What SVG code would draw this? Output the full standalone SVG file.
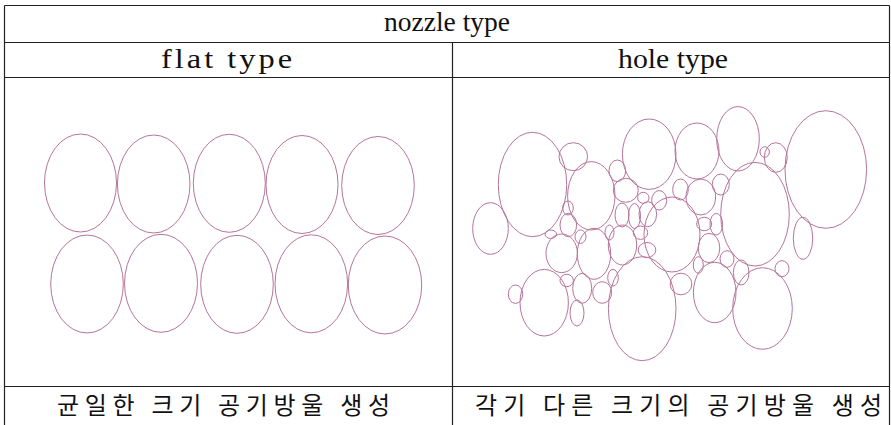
<svg xmlns="http://www.w3.org/2000/svg" width="891" height="425" viewBox="0 0 891 425">
<style>
.grid{stroke:#222;stroke-width:1.2;fill:none}
.b{fill:none;stroke:#b5759a;stroke-width:1}
.lat{font-family:"Liberation Serif","DejaVu Serif",serif;font-size:27px;fill:#111;text-anchor:middle}
.kor{font-family:"Noto Sans CJK KR","Noto Sans",sans-serif;font-size:24px;fill:#111;text-anchor:middle}
</style>
<rect width="891" height="425" fill="#fff"/>
<g id="table">
<line class="grid" x1="4.5" y1="5.5" x2="889.5" y2="5.5"/>
<line class="grid" x1="4.5" y1="5.5" x2="4.5" y2="425"/>
<line class="grid" x1="889.5" y1="5.5" x2="889.5" y2="425"/>
<line class="grid" x1="4.5" y1="42.5" x2="889.5" y2="42.5"/>
<line class="grid" x1="4.5" y1="77.5" x2="889.5" y2="77.5"/>
<line class="grid" x1="4.5" y1="386.5" x2="889.5" y2="386.5"/>
<line class="grid" x1="452.5" y1="42.5" x2="452.5" y2="425"/>
</g>
<g id="headers">
<text class="lat" x="447" y="31" textLength="126" lengthAdjust="spacingAndGlyphs">nozzle type</text>
<text class="lat" transform="translate(228,68) scale(1.2,1)" x="0" y="0" letter-spacing="2.5">flat type</text>
<text class="lat" x="673" y="68" textLength="110" lengthAdjust="spacingAndGlyphs">hole type</text>
</g>
<g id="captions">
<text class="kor" x="223.5" y="414" textLength="333">균일한 크기 공기방울 생성</text>
<text class="kor" x="678.5" y="414" textLength="407">각기 다른 크기의 공기방울 생성</text>
</g>
<g id="flat-bubbles">
<ellipse class="b" cx="80.5" cy="183" rx="36" ry="49"/>
<ellipse class="b" cx="153.7" cy="184" rx="36.3" ry="49"/>
<ellipse class="b" cx="229.3" cy="183.3" rx="36" ry="49"/>
<ellipse class="b" cx="302" cy="184.5" rx="36" ry="49"/>
<ellipse class="b" cx="378" cy="185.5" rx="36.3" ry="49"/>
<ellipse class="b" cx="87" cy="284" rx="36.3" ry="49"/>
<ellipse class="b" cx="161" cy="283.3" rx="36.5" ry="49"/>
<ellipse class="b" cx="237" cy="284.3" rx="36.3" ry="49"/>
<ellipse class="b" cx="311.3" cy="283.8" rx="36.3" ry="49"/>
<ellipse class="b" cx="385" cy="285" rx="36.7" ry="49"/>
</g>
<g id="hole-bubbles">
<ellipse class="b" cx="532.5" cy="184.5" rx="34.2" ry="52.2"/>
<ellipse class="b" cx="573.3" cy="156.7" rx="14.3" ry="14"/>
<ellipse class="b" cx="490.5" cy="228.5" rx="17.8" ry="25.8"/>
<ellipse class="b" cx="591.3" cy="195.8" rx="23.7" ry="34.2"/>
<ellipse class="b" cx="617.3" cy="170.8" rx="8.3" ry="10.8"/>
<ellipse class="b" cx="649.2" cy="154.2" rx="26.8" ry="35.2"/>
<ellipse class="b" cx="625.8" cy="190.3" rx="12.5" ry="12"/>
<ellipse class="b" cx="643.3" cy="197.8" rx="5.7" ry="5.5"/>
<ellipse class="b" cx="659.2" cy="200.3" rx="7.5" ry="9.7"/>
<ellipse class="b" cx="622" cy="215" rx="7" ry="12"/>
<ellipse class="b" cx="634.5" cy="216" rx="6" ry="12.5"/>
<ellipse class="b" cx="647.8" cy="214.2" rx="8.8" ry="12.5"/>
<ellipse class="b" cx="640.5" cy="232.7" rx="7.2" ry="6.7"/>
<ellipse class="b" cx="568" cy="208" rx="5.3" ry="7"/>
<ellipse class="b" cx="568.3" cy="225" rx="8.3" ry="11.7"/>
<ellipse class="b" cx="550.8" cy="234.2" rx="5.8" ry="4.2"/>
<ellipse class="b" cx="580.5" cy="236.7" rx="5.5" ry="6.7"/>
<ellipse class="b" cx="609.5" cy="232.5" rx="4.5" ry="7.5"/>
<ellipse class="b" cx="697" cy="151" rx="22" ry="28"/>
<ellipse class="b" cx="738" cy="138.8" rx="21.3" ry="32.2"/>
<ellipse class="b" cx="680.5" cy="189.5" rx="7.8" ry="10.5"/>
<ellipse class="b" cx="700.8" cy="197" rx="14.8" ry="18"/>
<ellipse class="b" cx="720.8" cy="184.5" rx="8.5" ry="10.5"/>
<ellipse class="b" cx="755" cy="214.2" rx="34.3" ry="51.8"/>
<ellipse class="b" cx="764.7" cy="152" rx="4.7" ry="5.3"/>
<ellipse class="b" cx="775.8" cy="157.5" rx="11.5" ry="14.8"/>
<ellipse class="b" cx="825.8" cy="169.5" rx="40.8" ry="58.8"/>
<ellipse class="b" cx="803" cy="238.3" rx="9.7" ry="21"/>
<ellipse class="b" cx="704.2" cy="224" rx="7.5" ry="6.7"/>
<ellipse class="b" cx="716.3" cy="224.2" rx="6.3" ry="10.8"/>
<ellipse class="b" cx="709" cy="248" rx="10.8" ry="14.7"/>
<ellipse class="b" cx="647" cy="250" rx="8.8" ry="7.5"/>
<ellipse class="b" cx="561.7" cy="253.3" rx="15.7" ry="19.3"/>
<ellipse class="b" cx="594" cy="253.8" rx="16.7" ry="25.5"/>
<ellipse class="b" cx="622.5" cy="245" rx="14.2" ry="20"/>
<ellipse class="b" cx="642.2" cy="308.7" rx="33.8" ry="52"/>
<ellipse class="b" cx="681" cy="284" rx="10.8" ry="10.8"/>
<ellipse class="b" cx="515.5" cy="294.2" rx="7.2" ry="9.2"/>
<ellipse class="b" cx="544.2" cy="302.7" rx="24.2" ry="33.3"/>
<ellipse class="b" cx="566.7" cy="280.5" rx="6.7" ry="6.2"/>
<ellipse class="b" cx="582.2" cy="288.3" rx="9.5" ry="15"/>
<ellipse class="b" cx="577" cy="313" rx="7" ry="13"/>
<ellipse class="b" cx="602.2" cy="292.5" rx="9.5" ry="10.8"/>
<ellipse class="b" cx="613" cy="277.7" rx="5.3" ry="8.3"/>
<ellipse class="b" cx="672" cy="234.5" rx="28" ry="37.5"/>
<ellipse class="b" cx="698.3" cy="265" rx="5" ry="8.3"/>
<ellipse class="b" cx="727" cy="259" rx="7" ry="8.3"/>
<ellipse class="b" cx="741.2" cy="272.5" rx="7.8" ry="12.5"/>
<ellipse class="b" cx="714.7" cy="292.5" rx="21.3" ry="30.2"/>
<ellipse class="b" cx="762.5" cy="308.5" rx="29.8" ry="40.8"/>
<ellipse class="b" cx="782" cy="268.7" rx="7" ry="8"/>
</g>
</svg>
